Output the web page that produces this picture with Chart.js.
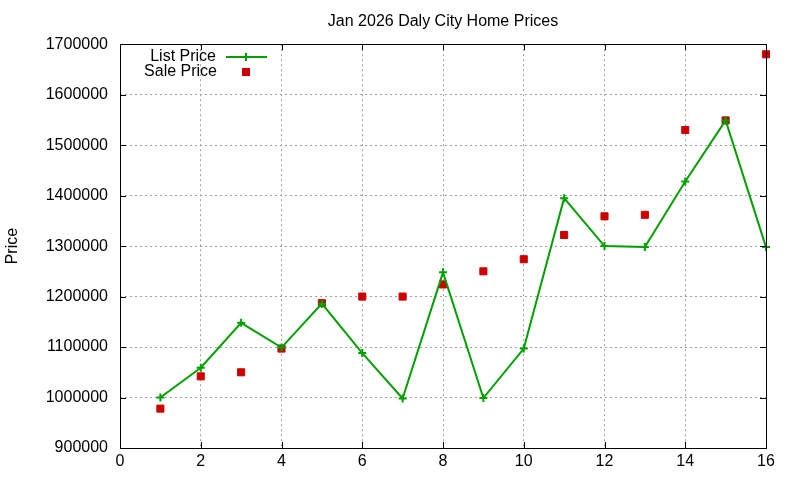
<!DOCTYPE html>
<html>
<head>
<meta charset="utf-8">
<script src="https://cdn.jsdelivr.net/npm/chart.js@4"></script>
<style>
  html, body { margin: 0; padding: 0; background: #fff; }
</style>
</head>
<body>
<canvas id="priceChart" width="800" height="480"></canvas>
<script>
// month index 1..16
const months = [1, 2, 3, 4, 5, 6, 7, 8, 9, 10, 11, 12, 13, 14, 15, 16];
const listPrice = [1000000, 1059000, 1148000, 1099000, 1186000, 1088000, 998000, 1248000,
                   999000, 1097000, 1395000, 1300000, 1298000, 1428000, 1549000, 1298000];
const salePrice = [978000, 1042000, 1050000, 1097000, 1187000, 1200000, 1200000, 1224000,
                   1250000, 1274000, 1322000, 1359000, 1362000, 1530000, 1549000, 1680000];
const xTicks = [0, 2, 4, 6, 8, 10, 12, 14, 16];
const yTicks = [900000, 1000000, 1100000, 1200000, 1300000, 1400000, 1500000, 1600000, 1700000];

const GREEN = "#00a000";
const RED = "#cc0000";
const FONT = "'Liberation Sans', Arial, sans-serif";

Chart.defaults.font.family = FONT;
Chart.defaults.font.size = 16;
Chart.defaults.color = "#000";

// gnuplot style frame with inward ticks on all four sides + legend
const framePlugin = {
  id: "frame",
  afterDraw(chart) {
    const { ctx, chartArea: a, scales } = chart;
    const t = 6;
    ctx.save();
    ctx.strokeStyle = "#000";
    ctx.lineWidth = 1;
    ctx.beginPath();
    xTicks.forEach(v => {
      const px = Math.round(scales.x.getPixelForValue(v)) + 0.5;
      ctx.moveTo(px, a.bottom); ctx.lineTo(px, a.bottom - t);
      ctx.moveTo(px, a.top); ctx.lineTo(px, a.top + t);
    });
    yTicks.forEach(v => {
      const py = Math.round(scales.y.getPixelForValue(v)) + 0.5;
      ctx.moveTo(a.left, py); ctx.lineTo(a.left + t, py);
      ctx.moveTo(a.right, py); ctx.lineTo(a.right - t, py);
    });
    ctx.stroke();
    ctx.strokeRect(Math.round(a.left) + 0.5, Math.round(a.top) + 0.5,
                   Math.round(a.right - a.left), Math.round(a.bottom - a.top));

    // legend
    ctx.font = "16px " + FONT;
    ctx.fillStyle = "#000";
    ctx.textAlign = "right";
    ctx.textBaseline = "middle";
    ctx.fillText("List Price", 216, 57);
    ctx.fillText("Sale Price", 217, 72);
    ctx.strokeStyle = GREEN;
    ctx.lineWidth = 2;
    ctx.beginPath();
    ctx.moveTo(226, 57); ctx.lineTo(267, 57);
    ctx.moveTo(246, 53); ctx.lineTo(246, 61);
    ctx.stroke();
    ctx.fillStyle = RED;
    ctx.fillRect(242, 68, 8, 8);
    ctx.restore();
  }
};

const data = {
  datasets: [
    {
      label: "List Price",
      data: months.map((m, i) => ({ x: m, y: listPrice[i] })),
      borderColor: GREEN,
      backgroundColor: GREEN,
      borderWidth: 2,
      pointStyle: "cross",
      pointRadius: 4,
      pointBorderWidth: 2,
      tension: 0,
      clip: false
    },
    {
      label: "Sale Price",
      data: months.map((m, i) => ({ x: m, y: salePrice[i] })),
      showLine: false,
      borderColor: RED,
      backgroundColor: RED,
      pointStyle: "rect",
      pointRadius: 5,
      pointBorderWidth: 1,
      clip: false
    }
  ]
};

const config = {
  type: "line",
  data: data,
  options: {
    responsive: false,
    animation: false,
    devicePixelRatio: 1,
    layout: { padding: { left: 0, right: 34, top: 0, bottom: 0 } },
    plugins: {
      legend: { display: false },
      tooltip: { enabled: false },
      title: {
        display: true,
        text: "Jan 2026 Daly City Home Prices",
        fullSize: false,
        font: { size: 16, weight: "normal" },
        padding: { top: 12, bottom: 13 }
      }
    },
    scales: {
      x: {
        type: "linear",
        min: 0,
        max: 16,
        afterFit(scale) { scale.height = 32; },
        afterBuildTicks(scale) { scale.ticks = xTicks.map(v => ({ value: v })); },
        ticks: { padding: 4, maxRotation: 0, callback: v => String(v) },
        grid: { color: "#a0a0a0", drawTicks: false },
        border: { display: false, dash: [2, 3] }
      },
      y: {
        type: "linear",
        min: 900000,
        max: 1700000,
        afterFit(scale) { scale.width = 120; },
        afterBuildTicks(scale) { scale.ticks = yTicks.map(v => ({ value: v })); },
        ticks: { padding: 12, callback: v => String(v) },
        title: { display: true, text: "Price", padding: 3, font: { size: 16 } },
        grid: { color: "#a0a0a0", drawTicks: false },
        border: { display: false, dash: [2, 3] }
      }
    }
  },
  plugins: [framePlugin]
};

const priceChart = new Chart(document.getElementById("priceChart"), config);
</script>
</body>
</html>
